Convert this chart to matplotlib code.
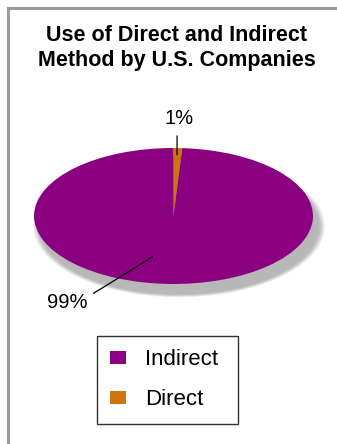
import matplotlib.pyplot as plt
from matplotlib.lines import Line2D
from matplotlib.patches import Patch

plt.rcParams['font.family'] = ['Liberation Sans', 'DejaVu Sans']

methods = ['Direct', 'Indirect']
shares = [1, 99]
colors = ['#cc7510', '#8b0081']
labels = ['1%', '99%']
legend_order = ['Indirect', 'Direct']

W, H = 337, 444
fig = plt.figure(figsize=(W / 100, H / 100), dpi=100)

# grey frame on left and top
fig.add_artist(Line2D([8 / W, 8 / W], [0, 1 - 8 / H], color='#9a9a9a', lw=2.2,
                      transform=fig.transFigure))
fig.add_artist(Line2D([8 / W, 1], [1 - 8 / H, 1 - 8 / H], color='#9a9a9a', lw=2.2,
                      transform=fig.transFigure))

fig.text(177 / W, 1 - 48 / H, 'Use of Direct and Indirect\nMethod by U.S. Companies',
         ha='center', va='center', fontsize=15.5, fontweight='bold', linespacing=1.3)

ax = fig.add_axes([34 / W, 1 - 284 / H, 279 / W, 136 / H])

# soft shadow
for i, a in enumerate([0.2, 0.3, 0.4, 0.55, 0.75, 1.0]):
    r = 1.045 - i * 0.01
    ax.pie(shares, colors=['#b8b8b8'] * len(shares), radius=r, center=(0.04, -0.15),
           startangle=90, counterclock=False, frame=True,
           wedgeprops=dict(linewidth=0, alpha=a))

wedges, _ = ax.pie(shares, colors=colors, startangle=90, counterclock=False,
                   frame=True, wedgeprops=dict(linewidth=0))
ax.set_aspect('auto')
ax.set_xlim(-1, 1)
ax.set_ylim(-1, 1)
ax.axis('off')

ax.annotate(labels[0], xy=(0.025, 0.9), xycoords='data',
            xytext=(179.5 / W, 1 - 118 / H), textcoords='figure fraction',
            ha='center', va='center', fontsize=14.5,
            arrowprops=dict(arrowstyle='-', color='black', lw=0.9,
                            shrinkA=4, shrinkB=0, relpos=(0.42, 0.0)))
ax.annotate(labels[1], xy=(-0.15, -0.6), xycoords='data',
            xytext=(67 / W, 1 - 302 / H), textcoords='figure fraction',
            ha='center', va='center', fontsize=14.5,
            arrowprops=dict(arrowstyle='-', color='black', lw=0.9,
                            shrinkA=3, shrinkB=0, relpos=(1.0, 0.75)))

handles = [Patch(facecolor=colors[methods.index(m)], edgecolor='none', label=m)
           for m in legend_order]
leg = fig.legend(handles=handles, loc='upper left', mode='expand',
                 bbox_to_anchor=(97 / W, 1 - 336 / H, 141 / W, 0), fontsize=16,
                 handlelength=0.7, handleheight=0.55, handletextpad=0.85,
                 labelspacing=0.85, borderpad=0.6, borderaxespad=0,
                 fancybox=False, edgecolor='black')
leg.get_frame().set_linewidth(1.0)

fig.savefig('out.png', dpi=100, facecolor='white')
